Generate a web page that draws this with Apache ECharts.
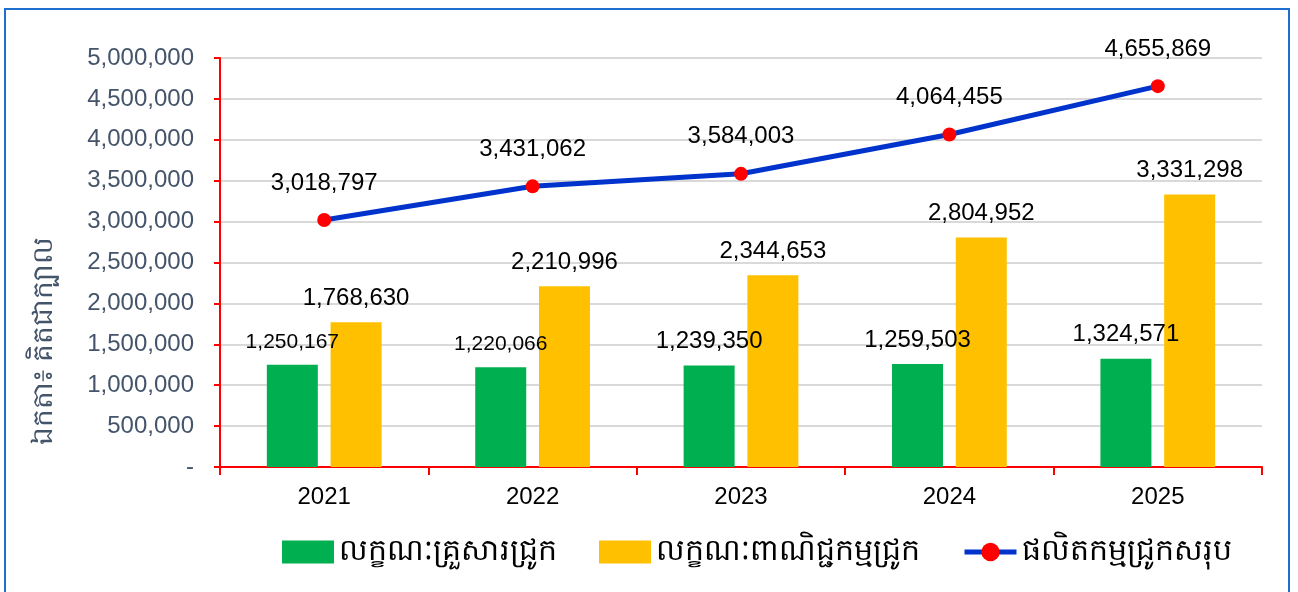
<!DOCTYPE html>
<html>
<head>
<meta charset="utf-8">
<script src="https://cdn.jsdelivr.net/npm/echarts@6/dist/echarts.min.js"></script>
<style>
  html, body { margin: 0; padding: 0; background: #fff; }
  #chart { width: 1298px; height: 592px; }
</style>
</head>
<body>
<div id="chart"></div>
<script>
// ------------------ data ------------------
let years = ['2021', '2022', '2023', '2024', '2025'];
let family = [1250167, 1220066, 1239350, 1259503, 1324571];
let commercial = [1768630, 2210996, 2344653, 2804952, 3331298];
let total = [3018797, 3431062, 3584003, 4064455, 4655869];

let seriesNames = ['លក្ខណៈគ្រួសារជ្រូក', 'លក្ខណៈពាណិជ្ជកម្មជ្រូក', 'ផលិតកម្មជ្រូកសរុប'];
let yName = 'ឯកតា៖ គិតជាក្បាល';

function fmt(v) {
    if (v === 0) return '-';
    return v.toLocaleString('en-US');
}

let FONT = '"Liberation Sans", Arial, "Noto Sans", sans-serif';

let myChart = echarts.init(document.getElementById('chart'));

// first two green labels are a bit smaller in the original
let familyData = family.map(function (v, i) {
    return {value: v, label: {fontSize: i < 2 ? 21 : 24}};
});

let option = {
    animation: false,
    textStyle: {fontFamily: FONT},
    graphic: [
        {
            type: 'rect',
            shape: {x: 5, y: 9, width: 1284, height: 600},
            style: {fill: 'none', stroke: '#1f6fd0', lineWidth: 2},
            silent: true
        },
        {
            type: 'text',
            x: 44,
            y: 341,
            rotation: Math.PI / 2,
            style: {
                text: yName,
                fontSize: 28,
                fill: '#44546a',
                align: 'center',
                verticalAlign: 'middle',
                fontFamily: FONT
            },
            silent: true
        }
    ],
    grid: {left: 220, right: 36, top: 58, bottom: 125},
    legend: {
        bottom: 20,
        left: 277,
        itemWidth: 52,
        itemHeight: 23,
        itemGap: 42,
        textStyle: {fontSize: 30, color: '#000'},
        data: [
            {name: seriesNames[0], icon: 'rect'},
            {name: seriesNames[1], icon: 'rect'},
            {name: seriesNames[2], lineStyle: {width: 5, color: '#0033cc'}}
        ]
    },
    xAxis: {
        type: 'category',
        data: years,
        axisLine: {lineStyle: {color: '#ff0000', width: 2}},
        axisTick: {show: true, length: 8, lineStyle: {color: '#ff0000', width: 2}},
        axisLabel: {fontSize: 24, color: '#000', margin: 18}
    },
    yAxis: {
        type: 'value',
        min: 0,
        max: 5000000,
        interval: 500000,
        axisLine: {show: true, lineStyle: {color: '#ff0000', width: 2}},
        axisTick: {show: true, length: 6, lineStyle: {color: '#ff0000', width: 2}},
        axisLabel: {fontSize: 24, color: '#44546a', margin: 26, formatter: fmt},
        splitLine: {lineStyle: {color: '#d9d9d9', width: 2}}
    },
    series: [
        {
            name: seriesNames[0],
            type: 'bar',
            data: familyData,
            barWidth: 51,
            barGap: '25%',
            itemStyle: {color: '#00b050'},
            label: {
                show: true, position: 'top', distance: 12,
                fontSize: 24, color: '#000', formatter: p => fmt(p.value)
            }
        },
        {
            name: seriesNames[1],
            type: 'bar',
            data: commercial,
            barWidth: 51,
            barGap: '25%',
            itemStyle: {color: '#ffc000'},
            label: {
                show: true, position: 'top', distance: 12,
                fontSize: 24, color: '#000', formatter: p => fmt(p.value)
            }
        },
        {
            name: seriesNames[2],
            type: 'line',
            data: total,
            symbol: 'circle',
            symbolSize: 14,
            lineStyle: {color: '#0033cc', width: 5},
            itemStyle: {color: '#ff0000'},
            label: {
                show: true, position: 'top', distance: 18,
                fontSize: 24, color: '#000', formatter: p => fmt(p.value)
            },
            z: 5
        }
    ]
};

myChart.setOption(option);
</script>
</body>
</html>
